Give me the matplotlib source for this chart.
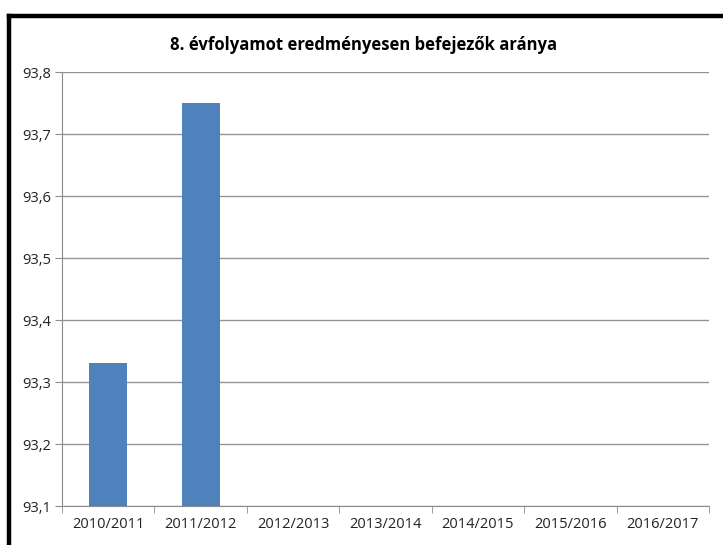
import numpy as np
import matplotlib.pyplot as plt
from matplotlib.lines import Line2D
from matplotlib.ticker import FuncFormatter

plt.rcParams['font.family'] = ['Open Sans', 'DejaVu Sans']

tanev = ['2010/2011', '2011/2012', '2012/2013', '2013/2014',
         '2014/2015', '2015/2016', '2016/2017']
arany = [93.33, 93.75, np.nan, np.nan, np.nan, np.nan, np.nan]
y_ticks = [93.1, 93.2, 93.3, 93.4, 93.5, 93.6, 93.7, 93.8]

fig = plt.figure(figsize=(7.23, 5.45), dpi=100)
ax = fig.add_axes([62 / 723, 1 - 506 / 545, (709 - 62) / 723, (506 - 72) / 545])

x = np.arange(len(tanev))
ax.bar(x, arany, width=0.41, color='#4F81BD', zorder=3)

ax.set_xlim(-0.5, len(tanev) - 0.5)
ax.set_ylim(93.1, 93.8)
ax.set_yticks(y_ticks)
ax.yaxis.set_major_formatter(FuncFormatter(lambda v, p: f'{v:.1f}'.replace('.', ',')))
ax.set_xticks(x)
ax.set_xticklabels(tanev)
ax.set_xticks(np.arange(len(tanev) + 1) - 0.5, minor=True)

ax.grid(axis='y', color='#959595', linewidth=1, zorder=0)
for s in ['top', 'right']:
    ax.spines[s].set_visible(False)
ax.spines['left'].set_color('#8c8c8c')
ax.spines['bottom'].set_color('#8c8c8c')
ax.tick_params(axis='y', length=5, color='#8c8c8c', labelsize=10.5, labelcolor='#222222', pad=3)
ax.tick_params(axis='x', which='major', length=0, labelsize=10.5, labelcolor='#222222', pad=8)
ax.tick_params(axis='x', which='minor', length=5, color='#8c8c8c')

fig.text(0.503, 1 - 45 / 545, '8. évfolyamot eredményesen befejezők aránya',
         ha='center', va='center', fontsize=12, fontweight='bold')

# fekete keret (csak felul es bal oldalon latszik)
fig.add_artist(Line2D([9 / 723, 1], [1 - 16 / 545, 1 - 16 / 545], color='black', linewidth=3.2, transform=fig.transFigure))
fig.add_artist(Line2D([9 / 723, 9 / 723], [0, 1 - 16 / 545], color='black', linewidth=3.2, transform=fig.transFigure))

fig.savefig('out.png', dpi=100)
